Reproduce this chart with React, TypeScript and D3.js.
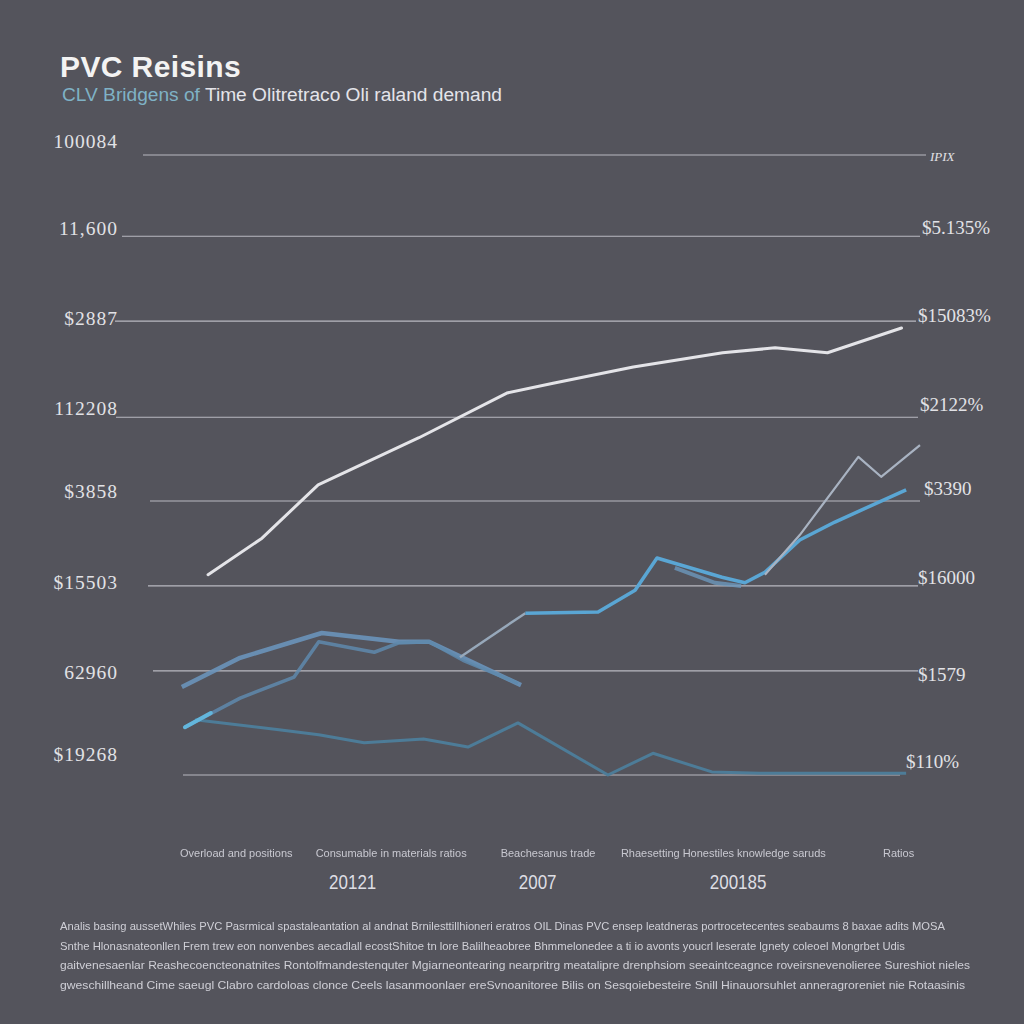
import React from "react";
import * as d3 from "d3";

// ---------- data ----------
const title = "PVC Reisins";
const subtitleA = "CLV Bridgens of ";
const subtitleB = "Time Olitretraco Oli raland demand";

const gridValues = [100, 86.9, 73.2, 57.7, 44.2, 30.5, 16.8, 0];
const leftLabels = ["100084", "11,600", "$2887", "112208", "$3858", "$15503", "62960", "$19268"];
const rightLabels = ["IPIX", "$5.135%", "$15083%", "$2122%", "$3390", "$16000", "$1579", "$110%"];

const categories = [
  "Overload and positions",
  "Consumable in materials ratios",
  "Beachesanus trade",
  "Rhaesetting Honestiles knowledge saruds",
  "Ratios",
];
const categoryPos = [0.0, 4.4, 10.4, 14.3, 22.8];
const years = ["20121", "2007", "200185"];
const yearPos = [5.6, 11.6, 18.1];

// series: [period, value]
const whiteSeries: [number, number][] = [
  [0.91, 32.3], [2.66, 38.2], [4.48, 46.8], [7.75, 54.4], [10.6, 61.6], [12.1, 63.2],
  [14.7, 65.8], [17.6, 68.1], [19.3, 68.9], [21.0, 68.1], [23.4, 72.1],
];
const blueSeries: [number, number][] = [
  [11.2, 26.1], [13.56, 26.3], [14.76, 29.8], [15.47, 35.0], [17.58, 31.9], [18.32, 31.0],
  [18.97, 32.7], [20.1, 37.9], [21.24, 40.8], [23.55, 46.0],
];
const blueFragment: [number, number][] = [[16.05, 33.4], [17.35, 31.0], [18.2, 30.5]];
const greyRiseA: [number, number][] = [[9.08, 19.0], [11.2, 26.1]];
const greyRiseB: [number, number][] = [
  [18.97, 32.3], [20.1, 38.7], [22.0, 51.3], [22.74, 48.1], [24.0, 53.2],
];
const steelSeries: [number, number][] = [
  [0.06, 14.2], [1.95, 18.9], [4.6, 22.9], [7.1, 21.5], [8.08, 21.5], [9.18, 18.9], [11.06, 14.5],
];
const steelSeries2: [number, number][] = [
  [0.16, 7.7], [1.95, 12.4], [3.7, 15.8], [4.5, 21.5], [6.3, 19.8], [7.1, 21.3],
  [8.08, 21.5], [9.18, 18.5], [10.96, 14.8],
];
const cyanStart: [number, number][] = [[0.16, 7.7], [1.0, 10.0]];
const tealSeries: [number, number][] = [
  [0.49, 8.9], [3.21, 7.3], [4.5, 6.5], [5.97, 5.2], [7.9, 5.8], [9.34, 4.5], [10.96, 8.4],
  [13.88, 0.0], [15.34, 3.5], [17.25, 0.5], [18.8, 0.3], [23.55, 0.3],
];

const footerLines = [
  "Analis basing aussetWhiles PVC Pasrmical spastaleantation al andnat Brnilesttillhioneri eratros  OIL Dinas PVC ensep leatdneras portrocetecentes seabaums 8 baxae adits MOSA",
  "Snthe Hlonasnateonllen Frem trew eon nonvenbes aecadlall ecostShitoe tn lore Balilheaobree Bhmmelonedee a ti io avonts youcrl leserate lgnety coleoel Mongrbet Udis",
  "gaitvenesaenlar Reashecoencteonatnites Rontolfmandestenquter Mgiarneontearing nearpritrg meatalipre drenphsiom seeaintceagnce roveirsnevenolieree Sureshiot nieles",
  "gweschillheand Cime saeugl Clabro cardoloas clonce Ceels lasanmoonlaer ereSvnoanitoree Bilis on Sesqoiebesteire Snill Hinauorsuhlet anneragroreniet nie Rotaasinis",
];
const footerWidths = [885, 845, 910, 905];

// ---------- layout ----------
const W = 1024;
const H = 1024;
const X0 = 180;
const X1 = 920;
const YTOP = 155;
const YBOT = 775;
const gridStart = [143, 122, 115, 116, 150, 148, 153, 183];
const gridEnd = [926, 920, 916, 918, 920, 918, 918, 900];
const labelDy = [-7, -1, 4, -2, -3, 3, 8, -14];
const rightDy = [6, -2, 1, -6, -6, -2, 10, -7];
const rightX = [930, 922, 918, 920, 924, 918, 918, 906];

export default function App() {
  const x = d3.scaleLinear().domain([0, 24]).range([X0, X1]);
  const y = d3.scaleLinear().domain([0, 100]).range([YBOT, YTOP]);
  const line = d3
    .line<[number, number]>()
    .x((d) => x(d[0]))
    .y((d) => y(d[1]));

  const serif = "'Liberation Serif', 'DejaVu Serif', serif";
  const sans = "'Liberation Sans', Arial, sans-serif";

  return (
    <svg
      width={W}
      height={H}
      style={{ position: "absolute", left: 0, top: 0, display: "block" }}
    >
      <defs>
        <linearGradient id="axisGrad" x1="0" x2="1" y1="0" y2="0">
          <stop offset="0" stopColor="#5f7fc0" />
          <stop offset="0.5" stopColor="#7a9ad8" />
          <stop offset="1" stopColor="#5f7fc0" />
        </linearGradient>
        <filter id="soft" x="-5%" y="-5%" width="110%" height="110%">
          <feGaussianBlur stdDeviation="0.6" />
        </filter>
      </defs>
      <rect x={0} y={0} width={W} height={H} fill="#54545c" />

      {/* title */}
      <text x={60} y={77} fontFamily={sans} fontWeight={700} fontSize={30} letterSpacing={0.4} fill="#f3f3f3">
        {title}
      </text>
      <text x={62} y={101} fontFamily={sans} fontSize={18} textLength={440} lengthAdjust="spacingAndGlyphs">
        <tspan fill="#7fb2c6">{subtitleA}</tspan>
        <tspan fill="#e4e4ea">{subtitleB}</tspan>
      </text>

      {/* grid */}
      {gridValues.map((v, i) => (
        <g key={"g" + i}>
          <line
            x1={gridStart[i]}
            x2={gridEnd[i]}
            y1={y(v)}
            y2={y(v)}
            stroke="#b8b8c0"
            strokeWidth={1.1}
          />
          <text
            x={118}
            y={y(v) + labelDy[i]}
            textAnchor="end"
            fontFamily={serif}
            fontSize={19.5}
            letterSpacing={1}
            fill="#e2e2e6"
          >
            {leftLabels[i]}
          </text>
          <text
            x={rightX[i]}
            y={y(v) + rightDy[i]}
            fontFamily={serif}
            fontSize={i === 0 ? 13 : 19}
            fontStyle={i === 0 ? "italic" : "normal"}
            fill="#e2e2e6"
          >
            {rightLabels[i]}
          </text>
        </g>
      ))}

      {/* series */}
      <path d={line(tealSeries) || ""} fill="none" stroke="#4d7c98" strokeWidth={3} strokeLinejoin="round" />
      <path d={line(steelSeries) || ""} fill="none" stroke="#6a94ba" strokeWidth={4.5} strokeLinejoin="round" opacity={0.9} />
      <path d={line(steelSeries2) || ""} fill="none" stroke="#5f89ad" strokeWidth={3.5} strokeLinejoin="round" opacity={0.85} />
      <path d={line(greyRiseA) || ""} fill="none" stroke="#97a8ba" strokeWidth={2.5} />
      <path d={line(blueFragment) || ""} fill="none" stroke="#6b97bd" strokeWidth={4} opacity={0.8} />
      <path d={line(blueSeries) || ""} fill="none" stroke="#5aa6d4" strokeWidth={3.5} strokeLinejoin="round" />
      <path d={line(greyRiseB) || ""} fill="none" stroke="#a9b3c2" strokeWidth={2.2} strokeLinejoin="round" />
      <path d={line(whiteSeries) || ""} fill="none" stroke="#e4e4e8" strokeWidth={3} strokeLinejoin="round" strokeLinecap="round" />
      <path d={line(cyanStart) || ""} fill="none" stroke="#63b6dc" strokeWidth={4} strokeLinecap="round" />

      {/* x axis */}
      <line x1={X0} x2={916} y1={834} y2={834} stroke="url(#axisGrad)" strokeWidth={3} />
      {categories.map((c, i) => (
        <text
          key={"c" + i}
          x={x(categoryPos[i])}
          y={857}
          fontFamily={sans}
          fontSize={11}
          fill="#c8c8d0"
          filter="url(#soft)"
        >
          {c}
        </text>
      ))}
      {years.map((yr, i) => (
        <text
          key={"y" + i}
          x={x(yearPos[i])}
          y={889}
          textAnchor="middle"
          fontFamily={sans}
          fontSize={20}
          fill="#dedee4"
          transform={`translate(${x(yearPos[i])},0) scale(0.85,1) translate(${-x(yearPos[i])},0)`}
        >
          {yr}
        </text>
      ))}

      {/* footer */}
      {footerLines.map((t, i) => (
        <text
          key={"f" + i}
          x={60}
          y={930 + i * 19.5}
          fontFamily={sans}
          fontSize={11}
          fill="#cfcfd6"
          textLength={footerWidths[i]}
          lengthAdjust="spacingAndGlyphs"
          filter="url(#soft)"
        >
          {t}
        </text>
      ))}
    </svg>
  );
}
